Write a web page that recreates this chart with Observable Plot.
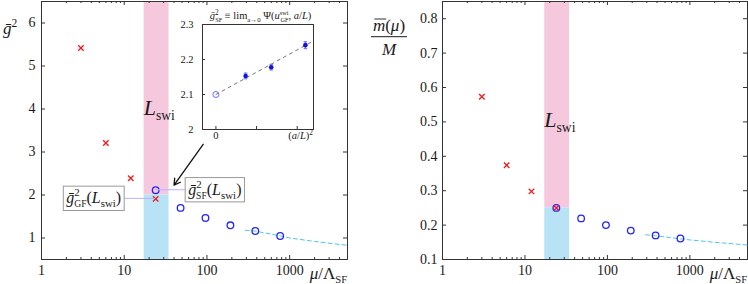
<!DOCTYPE html>
<html><head><meta charset="utf-8">
<script src="https://cdn.jsdelivr.net/npm/d3@7"></script>
<script src="https://cdn.jsdelivr.net/npm/@observablehq/plot@0.6"></script>
<style>
body{margin:0;background:#fff;}
#wrap{position:relative;width:748px;height:284px;overflow:hidden;}
#wrap svg{position:absolute;overflow:visible;}
#wrap svg text{font-family:"Liberation Serif","DejaVu Serif",serif;}
</style></head><body><div id="wrap"></div>
<script>
// ---------- data ----------
const muRed = [3, 6, 12, 24];
const g2Red = [5.42, 3.21, 2.39, 1.91];
const mRed = [0.573, 0.374, 0.298, 0.250];
const muBlue = [24, 48, 96, 192, 384, 768];
const g2Blue = [2.11, 1.70, 1.465, 1.295, 1.163, 1.047];
const mBlue = [0.250, 0.2195, 0.200, 0.184, 0.170, 0.161];
const muPert = [290, 384, 768, 1000, 2000, 5000];
const g2Pert = [1.18, 1.16, 1.05, 1.00, 0.92, 0.83];
const mPert = [0.172, 0.169, 0.160, 0.157, 0.150, 0.142];
const bandMu = [17.4, 34.8];
const g2Swi = 2.0;
const mSwi = 0.25;
// inset
const aL2 = [0.0073, 0.0136, 0.0220];
const g2SF = [2.153, 2.178, 2.241];
const g2SFerr = [0.008, 0.008, 0.010];
const g2Cont = 2.100;
const fitX = [0, 0.0240];
const fitY = [2.100, 2.253];
// ticks / tick labels / domains
const xTicks = [1, 10, 100, 1000];
const xTickLabels = ["1", "10", "100", "1000"];
const xDom = [1, 5000];
const g2Ticks = [1, 2, 3, 4, 5, 6];
const g2TickLabels = ["1", "2", "3", "4", "5", "6"];
const gDom = [0.5, 6.5];
const mTicks = [0.1, 0.2, 0.3, 0.4, 0.5, 0.6, 0.7, 0.8];
const mTickLabels = ["0.1", "0.2", "0.3", "0.4", "0.5", "0.6", "0.7", "0.8"];
const mDom = [0.1, 0.85];
const insetXTicks = [0, 0.01, 0.02];
const insetXTickLabels = ["0", "", ""];
const insetXDom = [-0.0033, 0.0240];
const insetYTicks = [2, 2.1, 2.2, 2.3];
const insetYTickLabels = ["2", "2.1", "2.2", "2.3"];
const insetYDom = [2, 2.3];
// annotation anchors (data units)
const arrowPts = [{x1: 90, y1: 3.18, x2: 40, y2: 2.23}];
const lswiLabelY = {g2: 3.85, m: 0.484};

// ---------- styles ----------
const serif = '"Liberation Serif","DejaVu Serif",serif';
const pink = "#f6c8dd", cyan = "#b8e3f7", red = "#e82222", blue = "#2424ff", pert = "#55c2ee", ink = "#333", txt = "#1a1a1a";

const red2 = muRed.map((mu, i) => ({mu, g2: g2Red[i], m: mRed[i]}));
const blue2 = muBlue.map((mu, i) => ({mu, g2: g2Blue[i], m: mBlue[i]}));
const pert2 = muPert.map((mu, i) => ({mu, g2: g2Pert[i], m: mPert[i]}));
const minorTicks = d3.scaleLog().domain(xDom).ticks().filter(t => !xTicks.includes(t));
const insetPts = aL2.map((x, i) => ({x, y: g2SF[i], e: g2SFerr[i]}));
const fit = fitX.map((x, i) => ({x, y: fitY[i]}));

function frameTicks(yt, innerW, innerH) {
  return [
    Plot.ruleX(xTicks, {x: d => d, insetTop: innerH - 4, stroke: ink}),
    Plot.ruleX(xTicks, {x: d => d, insetBottom: innerH - 4, stroke: ink}),
    Plot.ruleX(minorTicks, {x: d => d, insetTop: innerH - 2, stroke: ink}),
    Plot.ruleX(minorTicks, {x: d => d, insetBottom: innerH - 2, stroke: ink}),
    Plot.ruleY(yt, {y: d => d, insetRight: innerW - 4, stroke: ink}),
    Plot.ruleY(yt, {y: d => d, insetLeft: innerW - 4, stroke: ink})
  ];
}
function tickLabels(xt, xl, yt, yl, size, xdy, ydx) {
  return [
    Plot.text(xt, {x: d => d, text: (d, i) => xl[i], frameAnchor: "bottom", dy: xdy, fontFamily: serif, fontSize: size, fill: txt}),
    Plot.text(yt, {y: d => d, text: (d, i) => yl[i], frameAnchor: "left", textAnchor: "end", dx: ydx, fontFamily: serif, fontSize: size, fill: txt})
  ];
}

function mtext(g, x, y, parts, anchor = "start", base = 16) {
  const t = g.append("text").attr("x", x).attr("y", y).attr("text-anchor", anchor)
    .style("font-family", serif).attr("fill", txt);
  let prev = 0;
  for (const p of parts) {
    const b = p.b || 0;
    const ts = t.append("tspan").text(p.t).style("font-size", ((p.s || 1) * base) + "px").attr("dy", b - prev);
    if (p.i) ts.style("font-style", "italic");
    if (p.dx) ts.attr("dx", p.dx);
    prev = b;
  }
  return t;
}

const wrap = document.getElementById("wrap");

// ---------- left panel ----------
const LW = 374, LML = 41, LMR = 27, MT = 1, MB = 25, H = 284;
const innerH = H - MT - MB;
const left = Plot.plot({
  width: LW, height: H, marginLeft: LML, marginRight: LMR, marginTop: MT, marginBottom: MB,
  style: {background: "transparent", overflow: "visible"},
  x: {type: "log", domain: xDom, axis: null},
  y: {domain: gDom, axis: null},
  marks: [
    Plot.rect([0], {x1: bandMu[0], x2: bandMu[1], y1: g2Swi, y2: gDom[1], fill: pink}),
    Plot.rect([0], {x1: bandMu[0], x2: bandMu[1], y1: gDom[0], y2: g2Swi, fill: cyan}),
    Plot.frame({stroke: ink}),
    ...frameTicks(g2Ticks, LW - LML - LMR, innerH),
    ...tickLabels(xTicks, xTickLabels, g2Ticks, g2TickLabels, 14, 15, -6),
    Plot.line(pert2, {x: "mu", y: "g2", stroke: pert, strokeWidth: 1, strokeDasharray: "4,3"}),
    Plot.dot(blue2, {x: "mu", y: "g2", r: 3.3, stroke: blue, strokeWidth: 1.3, fill: "none"}),
    Plot.dot(red2, {x: "mu", y: "g2", symbol: "times", r: 2.6, stroke: red, strokeWidth: 1.4}),
    Plot.arrow(arrowPts, {x1: "x1", y1: "y1", x2: "x2", y2: "y2", stroke: "#111", strokeWidth: 1.3, headLength: 8})
  ]
});
left.style.left = "0px"; left.style.top = "0px";
wrap.appendChild(left);

// ---------- right panel ----------
const RX = 354, RW = 394, RML = 88, RMR = 1;
const right = Plot.plot({
  width: RW, height: H, marginLeft: RML, marginRight: RMR, marginTop: MT, marginBottom: MB,
  style: {background: "transparent", overflow: "visible"},
  x: {type: "log", domain: xDom, axis: null},
  y: {domain: mDom, axis: null},
  marks: [
    Plot.rect([0], {x1: bandMu[0], x2: bandMu[1], y1: mSwi, y2: mDom[1], fill: pink}),
    Plot.rect([0], {x1: bandMu[0], x2: bandMu[1], y1: mDom[0], y2: mSwi, fill: cyan}),
    Plot.frame({stroke: ink}),
    ...frameTicks(mTicks, RW - RML - RMR, innerH),
    ...tickLabels(xTicks, xTickLabels, mTicks, mTickLabels, 14, 15, -5),
    Plot.line(pert2, {x: "mu", y: "m", stroke: pert, strokeWidth: 1, strokeDasharray: "4,3"}),
    Plot.dot(blue2, {x: "mu", y: "m", r: 3.3, stroke: blue, strokeWidth: 1.3, fill: "none"}),
    Plot.dot(red2, {x: "mu", y: "m", symbol: "times", r: 2.6, stroke: red, strokeWidth: 1.4})
  ]
});
right.style.left = RX + "px"; right.style.top = "0px";
wrap.appendChild(right);

// ---------- inset ----------
const IX = 170, IW = 160, IH = 145, IML = 32, IMR = 17, IMT = 24, IMB = 16;
const capSym = {draw(ctx, size) { const w = Math.sqrt(size) / 2; ctx.moveTo(-w, 0); ctx.lineTo(w, 0); }};
const inset = Plot.plot({
  width: IW, height: IH, marginLeft: IML, marginRight: IMR, marginTop: IMT, marginBottom: IMB,
  style: {background: "transparent", overflow: "visible"},
  x: {domain: insetXDom, axis: null},
  y: {domain: insetYDom, axis: null},
  marks: [
    Plot.frame({stroke: ink}),
    Plot.ruleX(insetXTicks, {x: d => d, insetTop: IH - IMT - IMB - 3, stroke: ink}),
    Plot.ruleY(insetYTicks, {y: d => d, insetRight: IW - IML - IMR - 3, stroke: ink}),
    ...tickLabels(insetXTicks, insetXTickLabels, insetYTicks, insetYTickLabels, 10.5, 9, -9),
    Plot.line(fit, {x: "x", y: "y", stroke: "#666", strokeWidth: 0.9, strokeDasharray: "3,4"}),
    Plot.ruleX(insetPts, {x: "x", y1: d => d.y - d.e, y2: d => d.y + d.e, stroke: "#7a7aff", strokeWidth: 1.2}),
    Plot.dot(insetPts, {x: "x", y: d => d.y - d.e, symbol: capSym, r: 2, stroke: "#7a7aff", strokeWidth: 1.2}),
    Plot.dot(insetPts, {x: "x", y: d => d.y + d.e, symbol: capSym, r: 2, stroke: "#7a7aff", strokeWidth: 1.2}),
    Plot.dot(insetPts, {x: "x", y: "y", r: 2.3, fill: "#1212e0", stroke: "none"}),
    Plot.dot([g2Cont], {x: 0, y: d => d, r: 3, stroke: "#6a6aff", strokeWidth: 1, fill: "none"})
  ]
});
inset.style.left = IX + "px"; inset.style.top = "0px";
wrap.appendChild(inset);

// ---------- annotations ----------
(function annotate() {
  // left panel
  const gL = d3.select(left).append("g");
  const sx = left.scale("x"), sy = left.scale("y");
  mtext(gL, 3, 34, [{t: "ḡ", i: 1}, {t: "2", s: 0.68, b: -7}], "start", 17);
  mtext(gL, LW - LMR, 279, [{t: "μ", i: 1}, {t: "/"}, {t: "Λ"}, {t: "SF", s: 0.62, b: 4}], "end", 17);
  mtext(gL, sx.apply(bandMu[0]), sy.apply(lswiLabelY.g2), [{t: "L", i: 1}, {t: "swi", s: 0.62, b: 5}], "start", 22);

  const p = {x: sx.apply(muRed[3]), y: sy.apply(g2Red[3])};
  const q = {x: sx.apply(muBlue[0]), y: sy.apply(g2Blue[0])};
  const lineG = gL.append("g");
  const boxG = gL.append("g");
  const tGF = mtext(boxG, p.x - 34, p.y + 5,
    [{t: "ḡ", i: 1}, {t: "2", s: 0.68, b: -7}, {t: "GF", s: 0.6, b: 4, dx: -5.5}, {t: "("}, {t: "L", i: 1}, {t: "swi", s: 0.68, b: 4}, {t: ")"}], "end", 16);
  const tSF = mtext(boxG, q.x + 33, q.y + 5,
    [{t: "ḡ", i: 1}, {t: "2", s: 0.68, b: -7}, {t: "SF", s: 0.6, b: 4, dx: -5.5}, {t: "("}, {t: "L", i: 1}, {t: "swi", s: 0.68, b: 4}, {t: ")"}], "start", 16);
  for (const [t, pt, side] of [[tGF, p, "r"], [tSF, q, "l"]]) {
    const bb = t.node().getBBox();
    const bx = bb.x - 3, bw = bb.width + 6, by = pt.y - 12.2, bh = 24.3;
    boxG.insert("rect", ":first-child").attr("x", bx).attr("y", by).attr("width", bw).attr("height", bh)
      .attr("fill", "white").attr("stroke", "#999").attr("stroke-width", 1);
    const x0 = side === "r" ? bx + bw : bx;
    lineG.append("line").attr("x1", x0).attr("x2", pt.x).attr("y1", pt.y).attr("y2", pt.y)
      .attr("stroke", "#b3b3ff").attr("stroke-width", 1);
  }

  // right panel
  const gR = d3.select(right).append("g");
  const rx = right.scale("x"), ry = right.scale("y");
  const fx = 389 - RX;
  const num = mtext(gR, fx, 31, [{t: "m", i: 1}, {t: "("}, {t: "μ", i: 1}, {t: ")"}], "middle", 17);
  const e0 = num.node().getExtentOfChar(0);
  gR.append("line").attr("x1", e0.x + 1.5).attr("x2", e0.x + e0.width + 1).attr("y1", 19).attr("y2", 19)
    .attr("stroke", txt).attr("stroke-width", 0.9);
  gR.append("line").attr("x1", 371 - RX).attr("x2", 407 - RX).attr("y1", 36.7).attr("y2", 36.7).attr("stroke", txt).attr("stroke-width", 1);
  mtext(gR, fx, 55, [{t: "M", i: 1}], "middle", 17);
  mtext(gR, RW - RMR, 279, [{t: "μ", i: 1}, {t: "/"}, {t: "Λ"}, {t: "SF", s: 0.62, b: 4}], "end", 17);
  mtext(gR, rx.apply(bandMu[0]), ry.apply(lswiLabelY.m), [{t: "L", i: 1}, {t: "swi", s: 0.62, b: 5}], "start", 22);

  // inset texts
  const gI = d3.select(inset).append("g");
  mtext(gI, 260.5 - IX, 19, [
    {t: "ḡ", i: 1}, {t: "2", s: 0.7, b: -4}, {t: "SF", s: 0.6, b: 3, dx: -3.5},
    {t: " ≡ lim"}, {t: "a→0", s: 0.65, b: 3}, {t: " Ψ("}, {t: "u", i: 1},
    {t: "swi", s: 0.6, b: -4}, {t: "GF", s: 0.6, b: 3, dx: -8}, {t: ", "}, {t: "a", i: 1}, {t: "/"}, {t: "L", i: 1}, {t: ")"}
  ], "middle", 10.5);
  mtext(gI, IW - IMR, 139, [{t: "("}, {t: "a", i: 1}, {t: "/"}, {t: "L", i: 1}, {t: ")"}, {t: "2", s: 0.7, b: -4}], "end", 10.5);
})();
</script></body></html>
